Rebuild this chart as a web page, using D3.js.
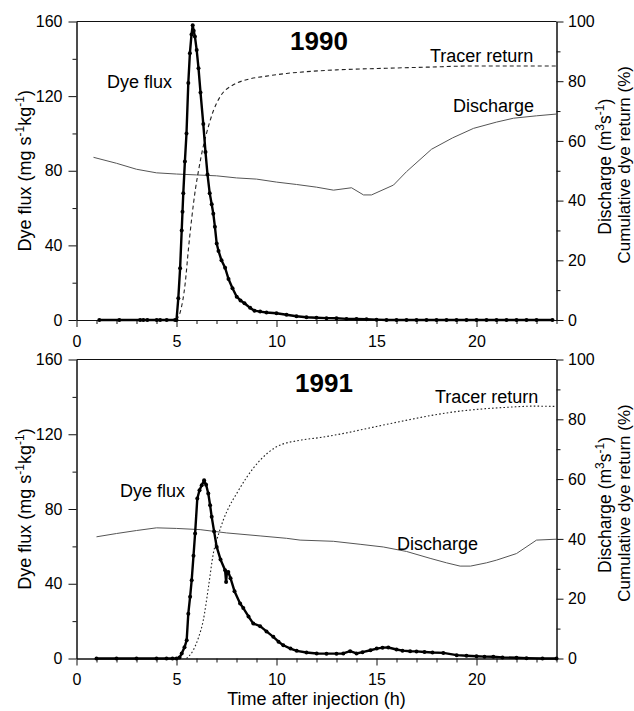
<!DOCTYPE html>
<html>
<head>
<meta charset="utf-8">
<script src="https://cdn.jsdelivr.net/npm/d3@7"></script>
<style>
  html, body { margin: 0; padding: 0; background: #fff; }
  svg { display: block; font-family: Arial, "Liberation Sans", Helvetica, sans-serif; }
</style>
</head>
<body>
<svg id="chart" width="634" height="711"></svg>
<script>
// ---------------- DATA ----------------
const years = ["1990", "1991"];
const xMajorTicks = [0, 5, 10, 15, 20];
const leftMajorTicks = [0, 40, 80, 120, 160];
const leftMinorTicks = [20, 60, 100, 140];
const rightMajorTicks = [0, 20, 40, 60, 80, 100];
const rightMinorTicks = [10, 30, 50, 70, 90];

// Dye flux (mg s-1 kg-1) vs time (h)
const flux1990 = [
  [1.14,0],[2.14,0],[3.18,0],[3.34,0],[3.54,0],[4.01,0],[4.18,0],[4.51,0],[4.93,0],
  [5.0,0],[5.09,11.6],[5.18,27.7],[5.26,48],[5.3,58],[5.34,68],[5.42,85],[5.5,100],
  [5.59,127],[5.67,143],[5.75,153],[5.81,158],[5.86,155],[5.92,152],[6.01,144.7],
  [6.1,135],[6.2,122],[6.34,105],[6.45,90],[6.55,78],[6.66,68],[6.76,62],[6.84,57],
  [6.92,50],[7.01,41],[7.1,37],[7.25,32],[7.43,28],[7.6,22],[7.8,17],[8.01,12.5],
  [8.2,10.5],[8.4,9],[8.68,6.5],[8.9,5],[9.18,4.5],[9.5,4],[10,3.6],[10.5,2.8],[11,2],
  [11.5,1.5],[12,1.2],[12.5,1],[13,0.9],[13.5,0.6],[14,0.5],[14.5,0.4],[15,0.2],
  [15.5,0],[16,0],[16.5,0],[17,0],[17.5,0],[18,0],[18.5,0],[19,0],[19.5,0],[20,0],
  [20.5,0],[21,0],[21.5,0],[22,0],[22.5,0],[23,0],[23.8,0]
];
const flux1991 = [
  [1,0],[2,0],[3,0],[4,0],[4.5,0],[4.8,0],[5.0,0],[5.15,0.5],[5.26,2.7],[5.4,6],
  [5.51,9.8],[5.59,24],[5.68,33],[5.76,41.9],[5.85,55],[5.93,66.9],[6.04,85.6],
  [6.15,90],[6.26,92.7],[6.38,95.4],[6.48,93],[6.59,88.3],[6.68,82],[6.76,75.8],
  [6.88,68],[7.01,59.7],[7.2,53],[7.43,47.2],[7.48,41],[7.52,46],[7.59,46.3],
  [7.7,43],[7.9,36],[8.18,29.4],[8.34,27],[8.6,22.5],[8.84,18.7],[9.18,17.3],
  [9.5,14.5],[9.84,11.6],[10.1,9],[10.34,7.1],[10.7,5.3],[11.01,4.1],[11.5,3.2],
  [12.01,2.7],[12.5,2.6],[13,2.6],[13.34,2.7],[13.68,3.9],[14.0,2.7],[14.3,3.4],
  [14.7,4.4],[15.01,5.3],[15.3,5.8],[15.59,5.9],[16.0,4.8],[16.3,4.2],[16.68,3.9],
  [17.0,3.8],[17.4,3.5],[17.8,3.2],[18.34,3.0],[19.01,1.8],[19.5,1.5],[20,1.2],
  [20.4,1.0],[20.84,0.9],[21.3,0.6],[22,0.4],[22.5,0.2],[23.3,0],[24,0]
];

// Cumulative dye return (%)
const tracer1990 = [
  [5.0,0],[5.2,3],[5.43,12],[5.6,24],[5.76,34],[5.95,44],[6.1,50],[6.3,57],
  [6.5,62.5],[6.84,70],[7.2,75],[7.84,78.8],[8.5,80.5],[9.5,81.7],[10.5,82.6],
  [11.5,83.2],[13,83.8],[15.3,84.3],[17.5,84.7],[19.8,85.1],[24,85.1]
];
const tracer1991 = [
  [5.5,0],[5.84,2.8],[6.1,7],[6.34,12.8],[6.6,24],[6.84,35.1],[7.1,41.5],
  [7.34,46.3],[7.65,51],[8.01,55.2],[8.5,60.5],[9.18,66.3],[10,70.8],[11.18,73],
  [12.18,73.9],[13.3,75.2],[14.51,76.9],[16,79],[17.84,81.4],[19,82.6],
  [20.01,83.3],[21.5,84],[22.84,84.4],[24,84.3]
];

// Discharge (m3 s-1)
const discharge1990 = [
  [0.85,54.5],[2,52.5],[3,50.5],[4,49.3],[5,48.9],[6,48.6],[7,48.3],[8,47.6],
  [9,47.2],[10,46.2],[11,45.4],[12,44.5],[12.85,43.5],[13.75,44.3],[14.35,41.9],
  [14.75,41.9],[15.85,45.2],[16.5,49.7],[17.75,57.2],[18.8,61],[19.85,64.2],
  [21,66.3],[21.85,67.6],[23,68.4],[24,69]
];
const discharge1991 = [
  [1.0,40.7],[2,41.8],[3,42.8],[4.0,43.7],[5,43.5],[6.18,43.1],[7.5,42],[9.18,41],
  [10.5,40.2],[11.18,39.6],[12.84,39.2],[14.18,38.2],[15.34,37.3],[16.5,35.8],
  [17.68,33.5],[18.5,32],[19.18,30.9],[19.7,30.9],[20.5,32],[21,32.9],[22,35.1],
  [23,39.6],[24,39.9]
];

// ---------------- DRAW ----------------
const svg = d3.select("#chart");
const X0 = 76.5, X1 = 556.5;
const x = d3.scaleLinear().domain([0, 24]).range([X0, X1]);

const panels = [
  { year: years[0], top: 21.5, bottom: 320, flux: flux1990, tracer: tracer1990,
    discharge: discharge1990, dash: "4,3",
    yearPos: [290, 50], fluxLab: [107, 88], tracerLab: [430, 62], dischLab: [453, 112] },
  { year: years[1], top: 359.5, bottom: 658.5, flux: flux1991, tracer: tracer1991,
    discharge: discharge1991, dash: "1.6,2.2",
    yearPos: [295, 392], fluxLab: [120, 497], tracerLab: [435, 403], dischLab: [397, 550] }
];

const FONT_TICK = 16, FONT_LAB = 18;

function styleAxis(g) {
  g.select(".domain").attr("stroke", "#111").attr("stroke-width", 1);
  g.selectAll(".tick line").attr("stroke", "#111").attr("stroke-width", 1);
  g.selectAll(".tick text").attr("fill", "#000").attr("font-size", FONT_TICK)
    .attr("font-family", "Arial, 'Liberation Sans', Helvetica, sans-serif");
}

panels.forEach((p, i) => {
  const yL = d3.scaleLinear().domain([0, 160]).range([p.bottom, p.top]);
  const yR = d3.scaleLinear().domain([0, 100]).range([p.bottom, p.top]);
  const g = svg.append("g");

  // top frame line
  g.append("line").attr("x1", X0).attr("x2", X1).attr("y1", p.top).attr("y2", p.top)
    .attr("stroke", "#111").attr("stroke-width", 1);

  // x axis
  const xMinor = d3.range(1, 25).filter(v => v % 5 !== 0);
  g.append("g").attr("transform", `translate(0,${p.bottom})`)
    .call(d3.axisBottom(x).tickValues(xMinor).tickSize(4).tickSizeOuter(0).tickFormat(""))
    .call(styleAxis);
  g.append("g").attr("transform", `translate(0,${p.bottom})`)
    .call(d3.axisBottom(x).tickValues(xMajorTicks).tickSize(7).tickSizeOuter(0).tickPadding(8.5).tickFormat(d3.format("d")))
    .call(styleAxis);

  // left axis
  g.append("g").attr("transform", `translate(${X0},0)`)
    .call(d3.axisLeft(yL).tickValues(leftMinorTicks).tickSize(4).tickSizeOuter(0).tickFormat(""))
    .call(styleAxis);
  g.append("g").attr("transform", `translate(${X0},0)`)
    .call(d3.axisLeft(yL).tickValues(leftMajorTicks).tickSize(8).tickSizeOuter(0).tickPadding(6).tickFormat(d3.format("d")))
    .call(styleAxis);

  // right axis
  g.append("g").attr("transform", `translate(${X1},0)`)
    .call(d3.axisRight(yR).tickValues(rightMinorTicks).tickSize(4).tickSizeOuter(0).tickFormat(""))
    .call(styleAxis);
  g.append("g").attr("transform", `translate(${X1},0)`)
    .call(d3.axisRight(yR).tickValues(rightMajorTicks).tickSize(7).tickSizeOuter(0).tickPadding(4.5).tickFormat(d3.format("d")))
    .call(styleAxis);

  // discharge line
  g.append("path").datum(p.discharge)
    .attr("fill", "none").attr("stroke", "#555").attr("stroke-width", 1)
    .attr("d", d3.line().x(d => x(d[0])).y(d => yR(d[1])));

  // tracer return
  g.append("path").datum(p.tracer)
    .attr("fill", "none").attr("stroke", "#222").attr("stroke-width", 1.1)
    .attr("stroke-dasharray", p.dash)
    .attr("d", d3.line().curve(d3.curveMonotoneX).x(d => x(d[0])).y(d => yR(d[1])));

  // dye flux
  g.append("path").datum(p.flux)
    .attr("fill", "none").attr("stroke", "#000").attr("stroke-width", 2.4)
    .attr("stroke-linejoin", "round")
    .attr("d", d3.line().x(d => x(d[0])).y(d => yL(d[1])));
  g.append("g").selectAll("circle").data(p.flux).join("circle")
    .attr("cx", d => x(d[0])).attr("cy", d => yL(d[1])).attr("r", 2).attr("fill", "#000");

  // in-plot labels
  g.append("text").attr("x", p.yearPos[0]).attr("y", p.yearPos[1])
    .attr("font-size", 26).attr("font-weight", "bold").text(p.year);
  g.append("text").attr("x", p.fluxLab[0]).attr("y", p.fluxLab[1])
    .attr("font-size", FONT_LAB).text("Dye flux");
  g.append("text").attr("x", p.tracerLab[0]).attr("y", p.tracerLab[1])
    .attr("font-size", FONT_LAB).text("Tracer return");
  g.append("text").attr("x", p.dischLab[0]).attr("y", p.dischLab[1])
    .attr("font-size", FONT_LAB).text("Discharge");

  const cy = (p.top + p.bottom) / 2;

  // left axis title
  const lt = g.append("text").attr("transform", `translate(31,${cy}) rotate(-90)`)
    .attr("text-anchor", "middle").attr("font-size", FONT_LAB);
  lt.append("tspan").text("Dye flux (mg s");
  lt.append("tspan").attr("dy", -7).attr("font-size", 12).text("-1");
  lt.append("tspan").attr("dy", 7).text("kg");
  lt.append("tspan").attr("dy", -7).attr("font-size", 12).text("-1");
  lt.append("tspan").attr("dy", 7).text(")");

  // right axis titles
  const rt1 = g.append("text").attr("transform", `translate(611,${cy - 4}) rotate(-90)`)
    .attr("text-anchor", "middle").attr("font-size", 17.5);
  rt1.append("tspan").text("Discharge (m");
  rt1.append("tspan").attr("dy", -7).attr("font-size", 12).text("3");
  rt1.append("tspan").attr("dy", 7).text("s");
  rt1.append("tspan").attr("dy", -7).attr("font-size", 12).text("-1");
  rt1.append("tspan").attr("dy", 7).text(")");
  g.append("text").attr("transform", `translate(630,${cy - 6}) rotate(-90)`)
    .attr("text-anchor", "middle").attr("font-size", 17)
    .text("Cumulative dye return (%)");
});

// x axis title
svg.append("text").attr("x", (X0 + X1) / 2).attr("y", 705)
  .attr("text-anchor", "middle").attr("font-size", FONT_LAB)
  .text("Time after injection (h)");
</script>
</body>
</html>
